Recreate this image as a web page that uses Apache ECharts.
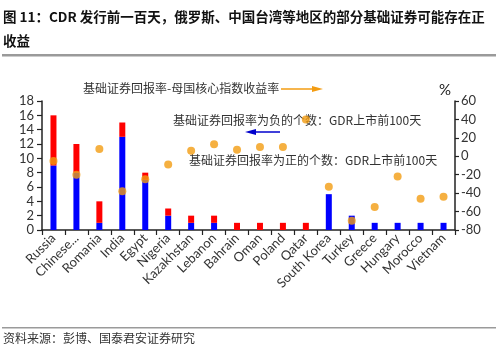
<!DOCTYPE html>
<html>
<head>
<meta charset="utf-8">
<script src="https://cdn.jsdelivr.net/npm/echarts@6/dist/echarts.min.js"></script>
<style>
html,body{margin:0;padding:0;background:#fff;}
#c{width:500px;height:362px;}
</style>
</head>
<body>
<div id="c"></div>
<script>
// Data
var categories = ["Russia","Chinese...","Romania","India","Egypt","Nigeria","Kazakhstan","Lebanon","Bahrain","Oman","Poland","Qatar","South Korea","Turkey","Greece","Hungary","Morocco","Vietnam"];
var positiveCount = [9,8,1,13,7,2,1,1,0,0,0,0,5,2,1,1,1,1];   // blue
var negativeCount = [7,4,3,2,1,1,1,1,1,1,1,1,0,0,0,0,0,0];   // red
var excessReturn  = [-5,-20,8,-38,-25,-9,6,13,7,10,10,40,-33,-70,-55,-22,-46,-44]; // orange dots, %
var leftTicks = {min:0, max:18, interval:2};
var rightTicks = {min:-80, max:60, interval:20};

var titleLine1 = "图 11：CDR 发行前一百天，俄罗斯、中国台湾等地区的部分基础证券可能存在正";
var titleLine2 = "收益";
var sourceText = "资料来源：彭博、国泰君安证券研究";
var note1 = "基础证券回报率-母国核心指数收益率";
var note2 = "基础证券回报率为负的个数：GDR上市前100天";
var note3 = "基础证券回报率为正的个数：GDR上市前100天";

var chart = echarts.init(document.getElementById('c'), null, {renderer:'canvas'});
var axisFont = 'Lato, "DejaVu Sans", sans-serif';
var cjk = '"Noto Sans CJK SC", sans-serif';

chart.setOption({
  animation:false,
  backgroundColor:'#fff',
  grid:{left:42, right:45, top:101, bottom:132, containLabel:false},
  xAxis:{
    type:'category', data:categories, boundaryGap:true,
    axisLine:{lineStyle:{color:'#222', width:1.5}},
    axisTick:{show:true, length:5, lineStyle:{color:'#222', width:1.2}},
    axisLabel:{rotate:45, interval:0, fontSize:13, color:'#333', fontFamily:axisFont, margin:6}
  },
  yAxis:[{
    type:'value', min:leftTicks.min, max:leftTicks.max, interval:leftTicks.interval,
    splitLine:{show:false},
    axisLine:{show:true, lineStyle:{color:'#222', width:1.5}},
    axisTick:{show:true, length:5, lineStyle:{color:'#222', width:1.2}},
    axisLabel:{fontSize:13, color:'#333', fontFamily:axisFont, margin:8}
  },{
    type:'value', min:rightTicks.min, max:rightTicks.max, interval:rightTicks.interval,
    position:'right',
    splitLine:{show:false},
    name:'%', nameLocation:'end', nameGap:3,
    nameTextStyle:{fontSize:15, color:'#222', fontFamily:axisFont, align:'right', padding:[0,4,0,0]},
    axisLine:{show:true, lineStyle:{color:'#222', width:1.5}},
    axisTick:{show:true, length:4, lineStyle:{color:'#222', width:1.2}},
    axisLabel:{fontSize:13, color:'#333', fontFamily:axisFont, margin:6}
  }],
  series:[
    {type:'bar', name:'正', stack:'cnt', data:positiveCount, barWidth:6, itemStyle:{color:'#0000ff'}, yAxisIndex:0},
    {type:'bar', name:'负', stack:'cnt', data:negativeCount, barWidth:6, itemStyle:{color:'#ff0000'}, yAxisIndex:0},
    {type:'scatter', name:'收益率差', data:excessReturn, yAxisIndex:1, symbolSize:8, itemStyle:{color:'#f39c12'}, z:5}
  ],
  graphic:[
    {type:'text', left:3, top:10, style:{text:titleLine1, font:'bold 13.5px ' + cjk, fill:'#111'}},
    {type:'text', left:3, top:34, style:{text:titleLine2, font:'bold 13.5px ' + cjk, fill:'#111'}},
    {type:'rect', shape:{x:2, y:54, width:494, height:2.5}, style:{fill:'#9a9a9a'}},
    {type:'rect', shape:{x:2, y:327, width:494, height:1.5}, style:{fill:'#9a9a9a'}},
    {type:'text', left:3, top:332, style:{text:sourceText, font:'12px ' + cjk, fill:'#333'}},
    {type:'text', left:83, top:82, style:{text:note1, font:'12px ' + cjk, fill:'#333'}},
    {type:'line', shape:{x1:281, y1:89, x2:316, y2:89}, style:{stroke:'#f39c12', lineWidth:1.5}},
    {type:'polygon', shape:{points:[[323,89],[312,86],[312,92]]}, style:{fill:'#f39c12'}},
    {type:'text', left:173, top:114, style:{text:note2, font:'12px ' + cjk, fill:'#333'}},
    {type:'line', shape:{x1:252, y1:132, x2:280, y2:132}, style:{stroke:'#0000cc', lineWidth:1.5}},
    {type:'polygon', shape:{points:[[245,132],[256,129],[256,135]]}, style:{fill:'#0000cc'}},
    {type:'text', left:189, top:154, style:{text:note3, font:'12px ' + cjk, fill:'#333'}}
  ]
});
</script>
</body>
</html>
